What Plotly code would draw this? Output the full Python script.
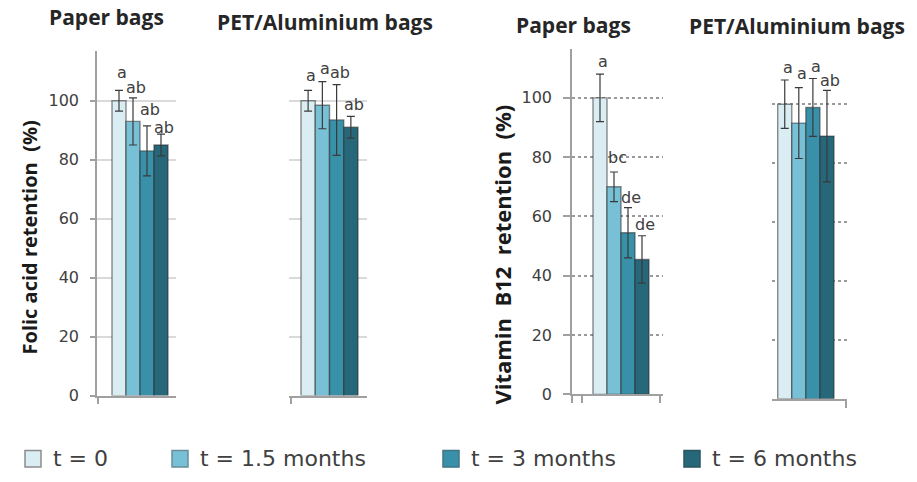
import plotly.graph_objects as go

# ---- data ----------------------------------------------------------------
times = ["t = 0", "t = 1.5 months", "t = 3 months", "t = 6 months"]
bag_types = ["Paper bags", "PET/Aluminium bags"]

folic_paper = [100, 93, 83, 85]
folic_paper_sd = [3.5, 8, 8.5, 3.7]
folic_paper_letters = ["a", "ab", "ab", "ab"]

folic_pet = [100, 98.5, 93.5, 91]
folic_pet_sd = [3.5, 8, 12, 3.7]
folic_pet_letters = ["a", "a", "ab", "ab"]

b12_paper = [100, 70, 54.5, 45.5]
b12_paper_sd = [8, 5, 8.5, 8]
b12_paper_letters = ["a", "bc", "de", "de"]

b12_pet = [99.8, 93.4, 98.7, 89]
b12_pet_sd = [8.2, 12, 9.8, 15.5]
b12_pet_letters = ["a", "a", "a", "ab"]

y_ticks = [0, 20, 40, 60, 80, 100]

# ---- styling -------------------------------------------------------------
W, H = 917, 482
colors = ["#daedf3", "#77c0d6", "#3890a9", "#26677a"]
edge = "rgba(45,45,45,0.55)"
axis_grey = "#a0a0a0"
text_grey = "#404040"

# extra vertical nudge (px) of each significance letter above its error bar
letter_lift = [
    [6, -1, 5, -5],
    [3, 2, 1, 0],
    [1, 3, -1, 0],
    [1, 3, 1, -2],
]


def px(x):
    return x / W


def py(y):
    return 1 - y / H


panels = [
    (folic_paper, folic_paper_sd, folic_paper_letters),
    (folic_pet, folic_pet_sd, folic_pet_letters),
    (b12_paper, b12_paper_sd, b12_paper_letters),
    (b12_pet, b12_pet_sd, b12_pet_letters),
]

fig = go.Figure()

for p, (vals, sds, letters) in enumerate(panels):
    xa = "x" if p == 0 else f"x{p + 1}"
    ya = "y" if p == 0 else f"y{p + 1}"
    for i, t in enumerate(times):
        fig.add_trace(go.Bar(
            x=[i], y=[vals[i]], width=[1], name=t, showlegend=False,
            xaxis=xa, yaxis=ya,
            marker=dict(color=colors[i], line=dict(color=edge, width=1.4)),
            error_y=dict(type="data", array=[sds[i]], color="#3a3a3a",
                         thickness=1.2, width=4),
        ))
        fig.add_annotation(
            x=i, y=vals[i] + sds[i], xref=xa, yref=ya, text=letters[i],
            showarrow=False, yanchor="bottom", xshift=3,
            yshift=letter_lift[p][i],
            font=dict(family="DejaVu Sans", size=16, color=text_grey),
        )

x_common = dict(showgrid=False, zeroline=False, showticklabels=False,
                showline=True, linecolor=axis_grey, linewidth=1.5,
                ticks="outside", ticklen=7, tickcolor=axis_grey, tickwidth=1.5)

y_common = dict(tickvals=y_ticks, zeroline=False,
                tickfont=dict(family="DejaVu Sans", size=16, color=text_grey))

fig.update_layout(
    width=W, height=H,
    margin=dict(l=0, r=0, t=0, b=0),
    paper_bgcolor="white", plot_bgcolor="white",
    barmode="overlay",
    showlegend=False,
    xaxis=dict(domain=[px(97), px(176)], range=[-1.5714, 4.0714], anchor="y",
               tickvals=[-1.50], **x_common),
    xaxis2=dict(domain=[px(289), px(367)], range=[-1.342, 4.1316], anchor="y2",
                tickvals=[-1.20], **x_common),
    xaxis3=dict(domain=[px(572), px(663)], range=[-2.0, 4.5], anchor="y3",
                tickvals=[-1.99, -1.2857, 4.2857], **x_common),
    xaxis4=dict(domain=[px(772), px(847)], range=[-0.905, 4.4236], anchor="y4",
                tickvals=[4.3526], **x_common),
    yaxis=dict(domain=[py(404), py(52)], range=[0, 116.9], anchor="x",
               showgrid=True, gridcolor="#dadada", gridwidth=2,
               showline=True, linecolor=axis_grey, linewidth=1.5,
               ticks="outside", ticklen=5, tickcolor=axis_grey, tickwidth=1.5,
               ticklabelstandoff=8, **y_common),
    yaxis2=dict(domain=[py(404), py(52)], range=[0, 116.9], anchor="x2",
                showgrid=True, gridcolor="#dadada", gridwidth=2,
                showline=False, ticks="", showticklabels=False, **y_common),
    yaxis3=dict(domain=[py(402.7), py(50)], range=[0, 116.5], anchor="x3",
                showgrid=True, gridcolor="#9a9a9a", gridwidth=1.5, griddash="dot",
                showline=True, linecolor=axis_grey, linewidth=1.5,
                ticks="outside", ticklen=7, tickcolor=axis_grey, tickwidth=1.5,
                ticklabelstandoff=8, **y_common),
    yaxis4=dict(domain=[py(407.3), py(56.05)], range=[0, 116.5], anchor="x4",
                showgrid=True, gridcolor="#9a9a9a", gridwidth=1.5, griddash="dot",
                showline=False, ticks="", showticklabels=False, **y_common),
)

# panel headings
title_font = dict(family="Open Sans", size=21, color="#262626")
for (cx, cy), label in zip([(106, 17), (325, 22), (573, 26), (797, 27)],
                           bag_types * 2):
    fig.add_annotation(x=px(cx), y=py(cy), xref="paper", yref="paper",
                       text=f"<b>{label}</b>", showarrow=False,
                       xanchor="center", yanchor="middle", font=title_font)

# y-axis titles
fig.add_annotation(x=px(29), y=py(242.5), xref="paper", yref="paper",
                   text="<b>Folic acid retention\u00a0 (%)</b>", textangle=-90,
                   showarrow=False, xanchor="center", yanchor="middle",
                   font=dict(family="Open Sans", size=20, color="#1a1a1a"))
fig.add_annotation(x=px(502), y=py(260), xref="paper", yref="paper",
                   text="<b>Vitamin\u00a0 B12\u00a0 retention\u00a0 (%)</b>",
                   textangle=-90, showarrow=False, xanchor="center",
                   yanchor="middle",
                   font=dict(family="Open Sans", size=22, color="#1a1a1a"))

# legend row
legend_left = [25, 172, 443, 684]
legend_edges = ["#8c8c8c", "#6a8f99", "#3f7585", "#2a5561"]
for i, t in enumerate(times):
    lx = legend_left[i]
    fig.add_shape(type="rect", xref="paper", yref="paper",
                  x0=px(lx), x1=px(lx + 16), y0=py(477), y1=py(460),
                  fillcolor=colors[i], line=dict(color=legend_edges[i], width=1.5))
    fig.add_annotation(x=px(lx + 26), y=py(468.5), xref="paper", yref="paper",
                       text=t, showarrow=False, xanchor="left", yanchor="middle",
                       font=dict(family="DejaVu Sans", size=22, color=text_grey))

fig.write_html("out.html")
